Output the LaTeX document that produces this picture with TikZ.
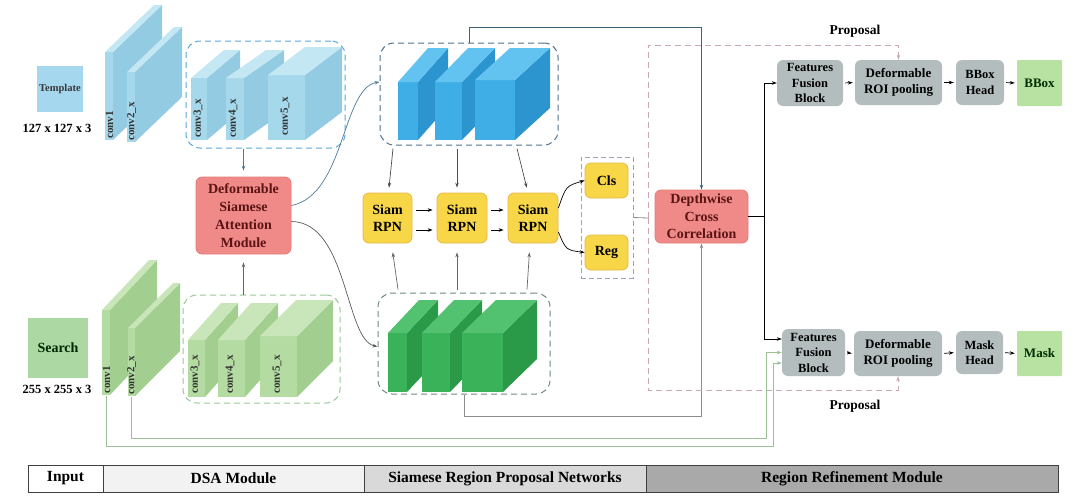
\documentclass[tikz,border=0pt]{standalone}
\usepackage{fontspec}
\setmainfont{Liberation Serif}
\usetikzlibrary{arrows.meta}
\definecolor{tbF}{HTML}{A6D8EC}\definecolor{tbS}{HTML}{93CBE2}\definecolor{tbT}{HTML}{C4E7F4}
\definecolor{sgF}{HTML}{B4DBA2}\definecolor{sgS}{HTML}{A2CF8F}\definecolor{sgT}{HTML}{C9E6BA}
\definecolor{bbF}{HTML}{3FAEE6}\definecolor{bbS}{HTML}{2C95CF}\definecolor{bbT}{HTML}{62C2F0}
\definecolor{ggF}{HTML}{3AB25A}\definecolor{ggS}{HTML}{2A9A48}\definecolor{ggT}{HTML}{52C271}
\definecolor{tplF}{HTML}{A5D8EE}\definecolor{srchF}{HTML}{ACD9A3}
\definecolor{redF}{HTML}{F08A88}\definecolor{redD}{HTML}{E57A78}\definecolor{redT}{HTML}{5A1414}
\definecolor{yelF}{HTML}{F7D648}\definecolor{yelD}{HTML}{E8B84A}
\definecolor{gryF}{HTML}{B3BDBD}\definecolor{grnF}{HTML}{B8E2A2}
\definecolor{dsT}{HTML}{5AA8D8}\definecolor{dsS}{HTML}{98C898}\definecolor{dsB}{HTML}{50708C}
\definecolor{dsG}{HTML}{6E8C7A}\definecolor{dsC}{HTML}{A898B8}\definecolor{dsP}{HTML}{C8A8B8}
\definecolor{glin}{HTML}{9DBF95}\definecolor{blin}{HTML}{4D7A99}
\definecolor{legA}{HTML}{F2F2F2}\definecolor{legB}{HTML}{D9D9D9}\definecolor{legC}{HTML}{A9A9A9}
\newcommand{\myfs}[2]{\fontsize{#1}{#2}\selectfont\bfseries}
\newcommand{\myslab}[7]{%
  \fill[#7F] (#1,#3) rectangle (#2,#4);
  \fill[#7S] (#2,#3) -- ++(#5,#6) -- ++(0,#4-#3) -- (#2,#4) -- cycle;
  \fill[#7T] (#1,#3) -- (#2,#3) -- ++(#5,#6) -- ++(#1-#2,0) -- cycle;
}
\begin{document}
\begin{tikzpicture}[x=1pt,y=-1pt,
  box/.style={rounded corners=6pt, align=center, inner sep=0pt},
  redbox/.style={box, fill=redF, draw=redD, line width=0.8pt, text=redT, font=\myfs{14}{17.5}},
  yel/.style={box, fill=yelF, draw=yelD, line width=0.8pt, font=\myfs{14}{17}},
  gry/.style={box, fill=gryF, font=\myfs{12.5}{15.5}},
  outb/.style={box, rounded corners=1pt, fill=grnF, text=black!70!green!60!black, font=\myfs{13}{15}},
  dbox/.style={draw, rounded corners=14pt, line width=1pt, dash pattern=on 6pt off 4pt},
  arr/.style={-{Stealth[length=5pt,width=3.5pt]}, line width=0.7pt},
  lbl/.style={rotate=90, anchor=west, inner sep=0pt, font=\myfs{11}{12}, text=black!80},
  leg/.style={draw=black!75, line width=1pt, minimum height=27pt, inner sep=0pt, font=\myfs{15.5}{17}}]
\useasboundingbox (0,0) rectangle (1080,499);

% ---------------- inputs
\node[fill=tplF, minimum width=46pt, minimum height=46pt, inner sep=0pt, font=\myfs{10.5}{12}, text=black!70!cyan!40!black] (tmpl) at (60,89) {Template};
\node[font=\myfs{12.5}{14}] (tdim) at (57,128) {127 x 127 x 3};
\node[fill=srchF, minimum width=60pt, minimum height=60pt, inner sep=0pt, font=\myfs{14}{16}, text=black!70!green!50!black] (srch) at (58,348) {Search};
\node[font=\myfs{12.5}{14}] (sdim) at (57,389) {255 x 255 x 3};

% ---------------- template backbone
\myslab{105}{113}{52}{140}{49}{-47}{tb}
\myslab{127}{135}{72}{142}{47}{-45}{tb}
\node[lbl] (lt1) at (109.5,139) {conv1};
\node[lbl] (lt2) at (131.5,141) {conv2\_x};
\myslab{191}{207}{78}{140}{33}{-28}{tb}
\myslab{226}{244}{78}{140}{40}{-28}{tb}
\myslab{268}{305}{75}{140}{37}{-28}{tb}
\node[lbl] (lt3) at (198,138) {conv3\_x};
\node[lbl] (lt4) at (233,138) {conv4\_x};
\node[lbl] (lt5) at (285,136) {conv5\_x};
\node[dbox, draw=dsT, minimum width=159pt, minimum height=107pt] (tbox) at (265.5,94.5) {};

% ---------------- search backbone
\myslab{102}{110}{310}{395}{47}{-50}{sg}
\myslab{128}{135}{328}{396}{45}{-45}{sg}
\node[lbl] (ls1) at (106.5,394) {conv1};
\node[lbl] (ls2) at (131.5,395) {conv2\_x};
\myslab{188}{205}{340}{397}{33}{-37}{sg}
\myslab{218}{245}{340}{397}{33}{-37}{sg}
\myslab{260}{297}{336}{397}{36}{-36}{sg}
\node[lbl] (ls3) at (195,394) {conv3\_x};
\node[lbl] (ls4) at (230,394) {conv4\_x};
\node[lbl] (ls5) at (277,394) {conv5\_x};
\node[dbox, draw=dsS, minimum width=157pt, minimum height=108pt] (sbox) at (261.5,349) {};

% ---------------- DSA
\node[redbox, minimum width=95pt, minimum height=77pt, font=\myfs{14}{18}] (dsa) at (243.5,215.5) {Deformable\\Siamese\\Attention\\Module};
\draw[arr, blin, shorten >=6pt] (tbox.south -| dsa.north) -- (dsa.north);
\draw[arr, black!60, shorten >=8pt] (sbox.north -| dsa.south) -- (dsa.south);

% ---------------- feature blocks
\myslab{398}{418}{82}{140}{30}{-34}{bb}
\myslab{435}{462}{82}{140}{33}{-34}{bb}
\myslab{475}{515}{80}{140}{35}{-32}{bb}
\node[dbox, draw=dsB, minimum width=178pt, minimum height=102pt] (bbox) at (469,94) {};
\myslab{388}{407}{333}{392}{31}{-33}{gg}
\myslab{422}{450}{333}{392}{32}{-33}{gg}
\myslab{462}{503}{333}{392}{34}{-33}{gg}
\node[dbox, draw=dsG, minimum width=172pt, minimum height=101pt] (gbox) at (464,343.5) {};

\draw[arr, blin] ([yshift=10pt]dsa.east) .. controls (345,195) and (342,88) .. ([yshift=12pt]bbox.west);
\draw[arr, black!65] ([yshift=-6pt]dsa.east) .. controls (348,222) and (345,340) .. ([yshift=-3pt]gbox.west);

% ---------------- Siam RPN
\node[yel, minimum width=49pt, minimum height=50pt] (rpn1) at (387.5,218) {Siam\\RPN};
\node[yel, minimum width=50pt, minimum height=50pt] (rpn2) at (462,218) {Siam\\RPN};
\node[yel, minimum width=50pt, minimum height=50pt] (rpn3) at (533,218) {Siam\\RPN};
\foreach \a/\b in {rpn1/rpn2, rpn2/rpn3}{
  \draw[arr, shorten <=4pt, shorten >=4pt] ([yshift=8pt]\a.east) -- ([yshift=8pt]\b.west);
  \draw[arr, shorten <=4pt, shorten >=4pt] ([yshift=-12pt]\a.east) -- ([yshift=-12pt]\b.west);
}
\draw[arr, black!70, shorten >=5pt] ([xshift=-76pt,yshift=-3pt]bbox.south) -- ([xshift=1pt]rpn1.north);
\draw[arr, black!70, shorten >=5pt] ([xshift=-12pt,yshift=-3pt]bbox.south) -- ([xshift=-5pt]rpn2.north);
\draw[arr, black!70, shorten >=5pt] ([xshift=48pt,yshift=-3pt]bbox.south) -- ([xshift=-5pt]rpn3.north);
\draw[arr, black!60, shorten >=9pt] ([xshift=-66pt,yshift=3pt]gbox.north) -- ([xshift=4pt]rpn1.south);
\draw[arr, black!60, shorten >=9pt] ([xshift=-7pt,yshift=3pt]gbox.north) -- ([xshift=-5pt]rpn2.south);
\draw[arr, black!60, shorten >=9pt] ([xshift=63pt,yshift=3pt]gbox.north) -- ([xshift=-3pt]rpn3.south);

% ---------------- Cls / Reg
\node[dbox, rounded corners=0pt, draw=dsC, dash pattern=on 5pt off 3pt, minimum width=52pt, minimum height=121pt] (crbox) at (607,217.5) {};
\node[yel, minimum width=43pt, minimum height=35pt] (cls) at (606.5,180.5) {Cls};
\node[yel, minimum width=43pt, minimum height=35pt] (reg) at (606.5,252.5) {Reg};
\draw[arr] ([yshift=10pt]rpn3.east) .. controls (566,186) .. (cls.west);
\draw[arr] ([yshift=-14pt]rpn3.east) .. controls (566,250) .. (reg.west);

% ---------------- proposal paths
\coordinate (pj) at (648,218);
\coordinate (ptop) at (648,45);
\coordinate (pbot) at (648,390);
\draw[black!45, line width=0.8pt] (crbox.east) -- (pj);

% ---------------- DCC
\node[redbox, minimum width=93pt, minimum height=53pt] (dcc) at (701.5,216.5) {Depthwise\\Cross\\Correlation};
\draw[arr, blin!80!black] (bbox.north) -- ++(0,-15) -| (dcc.north);
\draw[arr, black!45] (gbox.south) -- ++(0,22) -| (dcc.south);

% ---------------- refinement
\node[gry, minimum width=66pt, minimum height=46pt] (ffb1) at (810,83) {Features\\Fusion\\Block};
\node[gry, minimum width=87pt, minimum height=45pt, font=\myfs{13}{16}] (roi1) at (898.5,82.5) {Deformable\\ROI pooling};
\node[gry, minimum width=48pt, minimum height=45pt] (bhead) at (980,82.5) {BBox\\Head};
\node[outb, minimum width=45pt, minimum height=46pt] (bout) at (1039.5,83) {BBox};
\node[gry, minimum width=63pt, minimum height=47pt] (ffb2) at (813.5,352.5) {Features\\Fusion\\Block};
\node[gry, minimum width=88pt, minimum height=45pt, font=\myfs{13}{16}] (roi2) at (898,353.5) {Deformable\\ROI pooling};
\node[gry, minimum width=47pt, minimum height=43pt] (mhead) at (979.5,352.5) {Mask\\Head};
\node[outb, minimum width=45pt, minimum height=45pt] (mout) at (1039.5,353.5) {Mask};

\draw[dsP, line width=1pt, dash pattern=on 6pt off 4pt, -{Stealth[length=5pt,width=3.5pt]}] (pj) -- (ptop) -| (roi1.north);
\draw[dsP, line width=1pt, dash pattern=on 6pt off 4pt, -{Stealth[length=5pt,width=3.5pt]}] (pj) -- (pbot) -| (roi2.south);
\node[font=\myfs{13.5}{15}] (prop1) at (855,31) {Proposal};
\node[font=\myfs{13.5}{15}] (prop2) at (855,406) {Proposal};

\coordinate (dj) at (764,216.5);
\draw[line width=0.8pt] (dcc.east) -- (dj);
\draw[arr] (dj) |- (ffb1.west);
\draw[arr] (dj) |- ([yshift=13.5pt]ffb2.west);

\foreach \a/\b in {ffb1/roi1, roi1/bhead, bhead/bout, ffb2/roi2, roi2/mhead, mhead/mout}{
  \draw[arr, shorten <=2pt, shorten >=2pt] (\a.east) -- (\b.west);
}

% ---------------- skip connections from search conv1 / conv2
\coordinate (sc1) at (106,396);
\coordinate (sc2) at (131,397);
\draw[arr, glin, line width=1pt] (sc2) |- (766,438) |- (ffb2.west);
\draw[arr, glin, line width=1pt] (sc1) |- (773,446) |- ([yshift=-10.5pt]ffb2.west);

% ---------------- legend
\node[leg, fill=white, minimum width=75pt] (lin) at (65.5,478.5) {Input};
\node[leg, fill=legA, minimum width=261pt] (ldsa) at (233.5,478.5) {DSA Module};
\node[leg, fill=legB, minimum width=282pt] (lsrpn) at (505,478.5) {Siamese Region Proposal Networks};
\node[leg, fill=legC, minimum width=412pt] (lrrm) at (852,478.5) {Region Refinement Module};
\end{tikzpicture}
\end{document}
